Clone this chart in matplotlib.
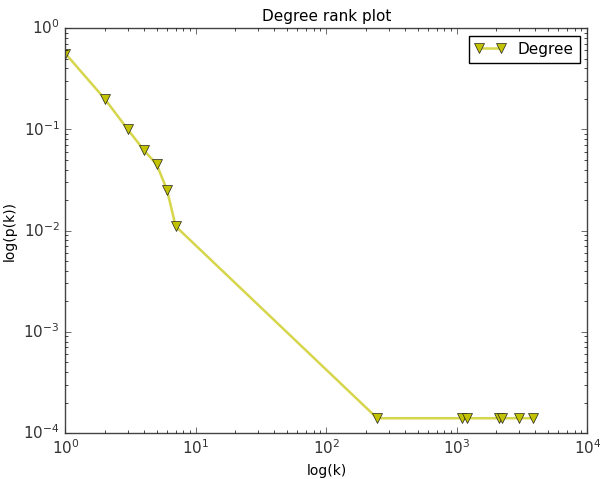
import matplotlib
matplotlib.use("Agg")
import matplotlib.pyplot as plt

plt.style.use("classic")

degree = [1, 2, 3, 4, 5, 6, 7, 245, 1090, 1200, 2090, 2220, 3000, 3800]
prob = [0.56, 0.2, 0.1, 0.062, 0.045, 0.0253, 0.011,
        1.4e-4, 1.4e-4, 1.4e-4, 1.4e-4, 1.4e-4, 1.4e-4, 1.4e-4]

fig = plt.figure(figsize=(6, 4.79), dpi=100)
ax = fig.add_axes([0.109, 0.096, 0.870, 0.8455])

ax.loglog(degree, prob, "-", marker="v", markersize=6.5, linewidth=1.8,
          color="#d6d64c", markerfacecolor="#c2c200",
          markeredgecolor="#222222", label="Degree")

ax.set_xlim(1, 1e4)
ax.set_ylim(1e-4, 1)
ax.set_title("Degree rank plot", fontsize=11)
ax.set_xlabel("log(k)", fontsize=10)
ax.set_ylabel("log(p(k))", fontsize=10)
ax.tick_params(labelsize=11, colors="#333333")
for s in ax.spines.values():
    s.set_color("#444444")
ax.legend(loc="upper right", numpoints=2, fontsize=11)

fig.savefig("out.png")
